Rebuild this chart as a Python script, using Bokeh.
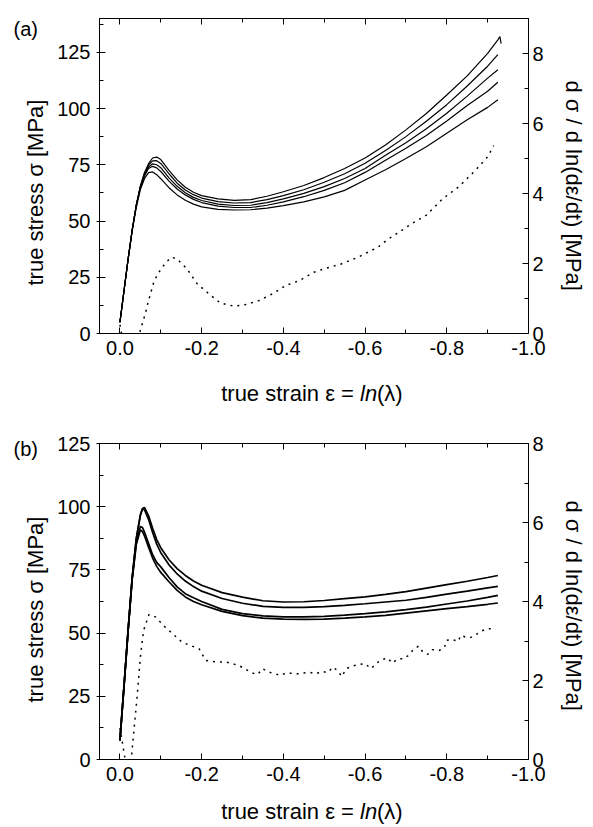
import math
from bokeh.plotting import figure
from bokeh.models import (Range1d, LinearAxis, FixedTicker, NumeralTickFormatter,
                          CustomJSTickFormatter, Label)
from bokeh.layouts import column
from bokeh.embed import file_html
from bokeh.resources import INLINE

FONT = "Liberation Sans"

# ---------------- panel (a) data ----------------
a_x = [0, -0.01, -0.02, -0.03, -0.04, -0.05, -0.06, -0.07, -0.08, -0.09, -0.10,
       -0.12, -0.14, -0.16, -0.18, -0.20, -0.24, -0.28, -0.32, -0.36, -0.40,
       -0.45, -0.50, -0.55, -0.60, -0.65, -0.70, -0.75, -0.80, -0.85, -0.90, -0.925]
a_s1 = [5, 19, 33, 46, 57, 65.5, 71.5, 75.5, 78, 78.4, 77.3,
        72.5, 68.3, 65, 62.8, 61.3, 59.8, 59.2, 59.5, 61, 63,
        65.8, 69.3, 73.3, 78, 83.8, 90.5, 97.8, 106, 114.5, 124.5, 130.5]
a_s1_end_x = [-0.925, -0.930, -0.933]
a_s1_end_y = [130.5, 132, 128.8]
a_s2 = [5, 19, 33, 46, 57, 65.3, 71, 74.8, 76.7, 76.8, 75.6,
        71, 66.8, 63.8, 61.7, 60.2, 58.6, 58, 58.2, 59.5, 61.3,
        63.9, 67.2, 71, 75.7, 81.3, 87.5, 94.3, 101.7, 110, 118.8, 123.9]
a_s3 = [5, 19, 33, 46, 57, 65, 70.5, 74, 75.4, 75, 73.7,
        69.2, 65.4, 62.6, 60.5, 59.1, 57.5, 56.9, 57, 58.2, 59.8,
        62.3, 65.3, 68.9, 73.3, 79.2, 84.8, 91, 97.9, 105.5, 113.5, 117.2]
a_s4 = [5, 19, 33, 46, 56.8, 64.8, 70, 73.3, 74.3, 73.6, 72,
        67.7, 64.2, 61.6, 59.6, 58.2, 56.6, 56, 56, 57, 58.5,
        60.8, 63.6, 67, 71.6, 77, 82.3, 88, 94.4, 101.3, 107.7, 111.7]
a_s5 = [5, 19, 33, 45.5, 56, 64, 68.8, 71.5, 71.8, 70.6, 68.8,
        64.8, 61.6, 59.2, 57.5, 56.3, 55.2, 54.9, 55, 55.7, 56.8,
        58.5, 60.7, 63.6, 68.2, 72.8, 77.8, 83, 89, 95, 100.5, 103.9]
a_dx = [0, -0.01, -0.025, -0.04, -0.05, -0.062, -0.07, -0.083, -0.093, -0.111,
        -0.126, -0.14, -0.164, -0.189, -0.218, -0.246, -0.279, -0.308, -0.34,
        -0.373, -0.406, -0.439, -0.475, -0.50, -0.54, -0.583, -0.632, -0.656,
        -0.689, -0.713, -0.75, -0.79, -0.83, -0.87, -0.90, -0.915]
a_dy = [0.25, -0.4, -0.8, -0.5, 0.1, 0.56, 0.94, 1.47, 1.71, 2.01,
        2.18, 2.13, 1.85, 1.42, 1.13, 0.87, 0.78, 0.83, 0.94,
        1.13, 1.37, 1.51, 1.75, 1.85, 1.98, 2.18, 2.47, 2.69,
        2.94, 3.13, 3.38, 3.85, 4.2, 4.66, 5.05, 5.37]

# ---------------- panel (b) data ----------------
b_x = [0, -0.01, -0.02, -0.03, -0.04, -0.05, -0.055, -0.06, -0.07, -0.08, -0.09,
       -0.10, -0.12, -0.14, -0.16, -0.18, -0.20, -0.25, -0.30, -0.35, -0.40,
       -0.45, -0.50, -0.55, -0.60, -0.65, -0.70, -0.75, -0.80, -0.85, -0.90, -0.925]
b_s1 = [7.5, 29, 51, 72, 87.5, 96.8, 99.3, 99.7, 96.5, 91.5, 87,
        83.8, 79, 75.5, 72.8, 70.6, 68.9, 66, 64.2, 62.8, 62.3,
        62.4, 62.9, 63.6, 64.3, 65.3, 66.4, 67.8, 69.2, 70.5, 72, 72.8]
b_s2 = [7.5, 29, 51, 72, 87.3, 96.5, 99, 98.8, 95, 89.8, 85.2,
        81.8, 77, 73.4, 70.6, 68.4, 66.6, 63.7, 61.8, 60.6, 60.2,
        60.2, 60.5, 61, 61.6, 62.3, 63, 64.1, 65.4, 66.6, 67.9, 68.5]
b_s3 = [7.5, 29, 51, 71.5, 85.5, 92.2, 91.8, 90, 85.5, 81, 78,
        76.2, 72, 68.3, 65.6, 64, 62.5, 59.4, 57.7, 56.8, 56.4,
        56.4, 56.6, 57.1, 57.7, 58.4, 59.3, 60.3, 61.5, 62.7, 64.1, 64.9]
b_s4 = [7.5, 29, 51, 71.2, 85, 90.8, 90.2, 88.5, 84, 79.7, 76.4,
        74, 70.3, 66.9, 64.3, 62.5, 61.2, 58.6, 56.9, 55.9, 55.5,
        55.4, 55.5, 55.9, 56.4, 57, 57.9, 58.8, 59.7, 60.5, 61.4, 61.9]
b_dx = [0, -0.012, -0.02, -0.028, -0.042, -0.05, -0.058, -0.071, -0.087, -0.111,
        -0.152, -0.194, -0.21, -0.234, -0.259, -0.291, -0.324, -0.337, -0.349,
        -0.365, -0.394, -0.406, -0.439, -0.463, -0.48, -0.493, -0.509, -0.521,
        -0.534, -0.543, -0.554, -0.570, -0.599, -0.615, -0.627, -0.641, -0.656,
        -0.666, -0.681, -0.695, -0.708, -0.718, -0.731, -0.74, -0.753, -0.765,
        -0.781, -0.794, -0.80, -0.812, -0.828, -0.834, -0.846, -0.856, -0.869,
        -0.882, -0.898, -0.914]
b_dy = [0.8, 0.05, -0.5, 0.05, 1.58, 2.59, 3.27, 3.67, 3.61, 3.35,
        2.97, 2.80, 2.51, 2.47, 2.47, 2.38, 2.19, 2.15, 2.30,
        2.21, 2.13, 2.19, 2.17, 2.21, 2.17, 2.23, 2.20, 2.34,
        2.24, 2.10, 2.30, 2.37, 2.43, 2.30, 2.43, 2.53, 2.57,
        2.44, 2.55, 2.55, 2.65, 2.78, 2.87, 2.74, 2.66, 2.78,
        2.76, 2.83, 3.02, 3.04, 2.99, 3.14, 3.10, 3.08, 3.14,
        3.24, 3.31, 3.31]

# ---------------- ticks ----------------
x_major = [0.0, -0.2, -0.4, -0.6, -0.8, -1.0]
x_minor = [-0.1, -0.3, -0.5, -0.7, -0.9]
y_major = [0, 25, 50, 75, 100, 125]
y_minor = [12.5, 37.5, 62.5, 87.5, 112.5, 137.5]
r_major = [0, 2, 4, 6, 8]
r_minor = [1, 3, 5, 7]

X0, X1 = 0.05, -1.0
FL, FR = 99, 528  # frame left/right in figure pixels


def style_axis(ax, tick_in=6, tick_out=0, standoff=6):
    ax.axis_line_color = "black"
    ax.axis_line_width = 1
    ax.major_tick_line_color = "black"
    ax.minor_tick_line_color = "black"
    ax.major_tick_line_width = 1
    ax.minor_tick_line_width = 1
    ax.major_tick_in = tick_in
    ax.major_tick_out = tick_out
    ax.minor_tick_in = 4
    ax.minor_tick_out = 0
    ax.major_label_text_font = FONT
    ax.major_label_text_font_size = "20px"
    ax.major_label_text_color = "black"
    ax.major_label_standoff = standoff


def make_panel(height, top, bottom, ymax, rmax, curves, dx, dy, lw, extra=None):
    p = figure(width=593, height=height, x_range=Range1d(X0, X1),
               y_range=Range1d(0, ymax), output_backend="svg",
               toolbar_location=None, x_axis_location=None, y_axis_location=None,
               min_border_left=FL, min_border_right=593 - FR, min_border_top=top,
               min_border_bottom=bottom)
    p.extra_y_ranges = {"r": Range1d(0, rmax)}
    p.grid.visible = False
    p.outline_line_color = "black"
    p.outline_line_width = 1
    p.background_fill_color = "white"
    p.border_fill_color = "white"

    bx = LinearAxis(ticker=FixedTicker(ticks=x_major, minor_ticks=x_minor),
                    formatter=NumeralTickFormatter(format="0.0"))
    style_axis(bx, 6, 0, 7)
    p.add_layout(bx, "below")
    tx = LinearAxis(ticker=FixedTicker(ticks=x_major, minor_ticks=x_minor),
                    formatter=CustomJSTickFormatter(code="return ''"))
    style_axis(tx, 6, 0, 0)
    tx.major_label_text_font_size = "1px"
    p.add_layout(tx, "above")
    ly = LinearAxis(ticker=FixedTicker(ticks=y_major, minor_ticks=y_minor))
    style_axis(ly, 6, 3, 6)
    p.add_layout(ly, "left")
    ry = LinearAxis(y_range_name="r",
                    ticker=FixedTicker(ticks=r_major, minor_ticks=r_minor))
    style_axis(ry, 6, 0, 4)
    p.add_layout(ry, "right")

    for xs, ys in curves:
        p.line(xs, ys, line_color="black", line_width=lw)
    p.line(dx, dy, y_range_name="r", line_color="black", line_width=1.5,
           line_dash="2 5")
    if extra is not None:
        p.line(extra[0], extra[1], line_color="black", line_width=lw)

    fb = height - bottom  # frame bottom (figure px)
    fh = height - top - bottom

    def dxv(px):
        return X0 + (px - FL) / (FR - FL) * (X1 - X0)

    def dyv(py):
        return (fb - py) / fh * ymax

    def lab(text, px, py, side, size="22px", angle=0.0, align="left",
            baseline="alphabetic", style="normal"):
        p.add_layout(Label(x=dxv(px), y=dyv(py), text=text, text_font=FONT,
                           text_font_size=size, text_color="black",
                           text_align=align, text_baseline=baseline,
                           angle=angle, text_font_style=style), side)

    return p, lab


# top panel: 415 px tall, frame y 18..333 ; bottom panel: 412 px tall, frame y 28..344
p1, lab1 = make_panel(415, 18, 82, 140, 9,
                      [(a_x, a_s1), (a_x, a_s2), (a_x, a_s3), (a_x, a_s4), (a_x, a_s5)],
                      a_dx, a_dy, 1.2, extra=(a_s1_end_x, a_s1_end_y))
p2, lab2 = make_panel(412, 28, 68, 125, 8,
                      [(b_x, b_s1), (b_x, b_s2), (b_x, b_s3), (b_x, b_s4)],
                      b_dx, b_dy, 1.7)

# panel (a) texts (figure pixel positions)
lab1("(a)", 13, 28, "left", size="20px")
lab1("true stress σ [MPa]", 35, 285, "left", angle=math.pi / 2, baseline="middle")
lab1("d σ / d ln(dε/dt) [MPa]", 572.5, 80, "right", angle=-math.pi / 2, baseline="middle")
lab1("true strain ε =", 220.7, 393, "below")
lab1("ln", 359.5, 393, "right", style="italic")
lab1("(λ)", 376.5, 393, "below")

# panel (b) texts (figure pixel positions = page y - 415)
lab2("(b)", 13, 33, "left", size="20px")
lab2("true stress σ [MPa]", 35, 287, "left", angle=math.pi / 2, baseline="middle")
lab2("d σ / d ln(dε/dt) [MPa]", 572.5, 85, "right", angle=-math.pi / 2, baseline="middle")
lab2("true strain ε =", 220.7, 396, "below")
lab2("ln", 359.5, 396, "right", style="italic")
lab2("(λ)", 376.5, 396, "above")

layout = column(p1, p2)
open("out.html", "w").write(file_html(layout, INLINE))
